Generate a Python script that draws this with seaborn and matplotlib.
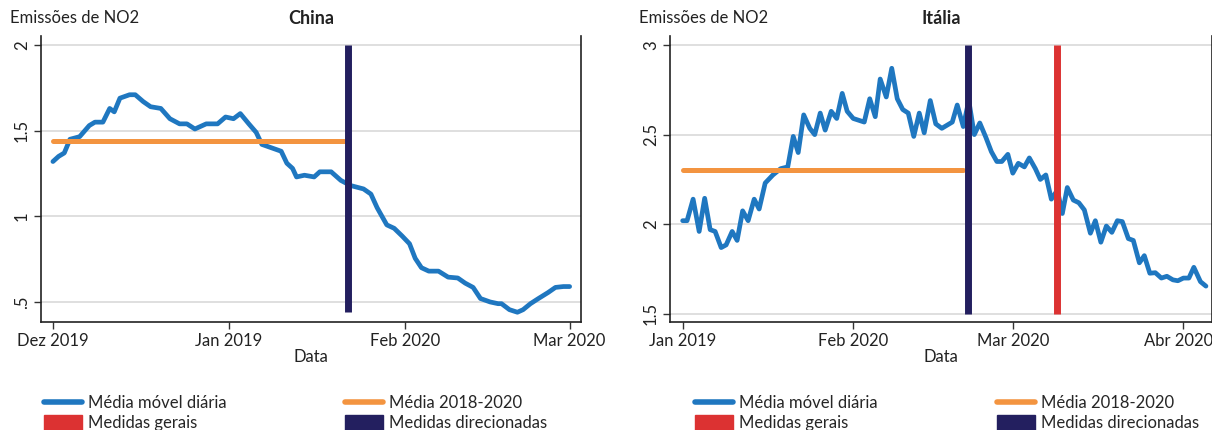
import numpy as np
import pandas as pd
import matplotlib
matplotlib.use('Agg')
import matplotlib.pyplot as plt
import matplotlib.transforms as mtransforms
import seaborn as sns
from matplotlib.lines import Line2D
from matplotlib.patches import Patch

# Data (x = days since start of first month)
china_days = [0, 1, 2, 3, 4.7, 6.4, 7.4, 8.8, 10, 10.8, 11.8, 13.5, 14.5, 15.9, 17.2, 19, 20.6,
              22.3, 23.6, 25, 27, 29, 30.4, 31.8, 33, 34.5, 35.8, 36.8, 38.5, 40.2, 41.2, 42.2,
              42.9, 44.3, 46, 47, 49, 50.7, 52.4, 54.7, 56, 57.1, 58.8, 60.1, 61.5, 62.8, 63.8,
              64.9, 66.2, 67.9, 69.6, 71.3, 72.6, 74, 75.3, 77, 78.4, 79, 80.4, 81.8, 82.8,
              84.1, 85.5, 87.2, 88.5, 89.9, 91]
china_values = [1.32, 1.35, 1.37, 1.45, 1.465, 1.53, 1.55, 1.55, 1.63, 1.61, 1.69, 1.71, 1.71,
                1.67, 1.64, 1.63, 1.57, 1.54, 1.54, 1.51, 1.54, 1.54, 1.58, 1.57, 1.60, 1.54,
                1.49, 1.42, 1.40, 1.38, 1.31, 1.28, 1.23, 1.24, 1.23, 1.26, 1.26, 1.21, 1.18,
                1.16, 1.13, 1.05, 0.95, 0.93, 0.885, 0.84, 0.755, 0.70, 0.68, 0.68, 0.645, 0.64,
                0.61, 0.585, 0.52, 0.50, 0.49, 0.49, 0.455, 0.44, 0.455, 0.49, 0.52, 0.555,
                0.585, 0.59, 0.59]
china_mean = 1.44
china_mean_end = 51.5
china_direcionadas = 52
china_ticks = [0, 31, 62, 91]
china_ticklabels = ['Dez 2019', 'Jan 2019', 'Feb 2020', 'Mar 2020']
china_yticks = [0.5, 1, 1.5, 2]
china_yticklabels = ['.5', '1', '1.5', '2']

italy_days = [0, 0.8, 1.9, 3, 4, 5, 5.9, 7, 7.9, 9, 9.9, 10.9, 11.9, 13, 13.9, 15, 16.4, 17.8,
              19.1, 20.1, 21, 22, 23.1, 24, 25, 25.9, 27, 28, 29, 29.9, 31, 33, 34, 35, 35.9,
              37, 38, 39, 40, 41, 42, 43, 43.9, 45, 46, 47.1, 49, 49.9, 51, 52, 53, 54, 55.1,
              56.1, 57.1, 58, 59.1, 60, 61, 62.1, 63, 64.1, 65, 66, 67, 68.1, 69, 69.9, 71, 72,
              73, 74.1, 75, 76, 77, 78, 79, 79.9, 81, 81.9, 83, 83.9, 84.9, 85.9, 87, 88, 89.1,
              90, 91, 92, 92.9, 94.1, 95.1]
italy_values = [2.02, 2.02, 2.14, 1.96, 2.145, 1.97, 1.96, 1.87, 1.885, 1.96, 1.91, 2.075, 2.02,
                2.14, 2.085, 2.23, 2.275, 2.31, 2.32, 2.49, 2.40, 2.61, 2.535, 2.50, 2.62, 2.525,
                2.63, 2.59, 2.73, 2.63, 2.59, 2.57, 2.70, 2.60, 2.81, 2.71, 2.87, 2.70, 2.64,
                2.62, 2.49, 2.62, 2.51, 2.69, 2.56, 2.535, 2.57, 2.665, 2.545, 2.69, 2.50, 2.565,
                2.485, 2.405, 2.35, 2.35, 2.39, 2.285, 2.34, 2.32, 2.37, 2.31, 2.25, 2.275, 2.14,
                2.19, 2.06, 2.205, 2.135, 2.12, 2.08, 1.95, 2.02, 1.90, 1.99, 1.955, 2.02, 2.015,
                1.92, 1.91, 1.785, 1.825, 1.727, 1.73, 1.70, 1.71, 1.69, 1.685, 1.70, 1.70, 1.76,
                1.68, 1.655]
italy_mean = 2.30
italy_mean_end = 51
italy_direcionadas = 51.9
italy_gerais = 68.1
italy_ticks = [0, 31, 60, 91]
italy_ticklabels = ['Jan 2019', 'Feb 2020', 'Mar 2020', 'Abr 2020']
italy_yticks = [1.5, 2, 2.5, 3]
italy_yticklabels = ['1.5', '2', '2.5', '3']

BLUE = '#1f77c0'
ORANGE = '#f39440'
NAVY = '#231f5f'
RED = '#dc3232'
TXT = '#222222'
FS = 12

sns.set_theme(style='white')
plt.rcParams['font.family'] = ['Lato', 'DejaVu Sans']

fig = plt.figure(figsize=(12.12, 4.3), dpi=100)
ax1 = fig.add_axes([41 / 1212, 108 / 430, 540 / 1212, 286 / 430])
ax2 = fig.add_axes([670 / 1212, 108 / 430, 542 / 1212, 286 / 430])


def draw_panel(ax, days, values, mean, mean_end, vlines, ticks, ticklabels,
               yticks, yticklabels, xlim, ylim, title):
    df = pd.DataFrame({'Data': days, 'NO2': values})
    for yt in yticks:
        ax.axhline(yt, color='#dcdcdc', lw=1.3, zorder=0)
    sns.lineplot(data=df, x='Data', y='NO2', ax=ax, color=BLUE, lw=3.4,
                 solid_capstyle='round', solid_joinstyle='round', zorder=2)
    ax.hlines(mean, 0, mean_end, color=ORANGE, lw=3.6, capstyle='round', zorder=3)
    for x, c, ymin in vlines:
        ax.vlines(x, ymin, yticks[-1], color=c, lw=5, zorder=4)
    ax.set_xlim(*xlim)
    ax.set_ylim(*ylim)
    ax.set_xticks(ticks)
    ax.set_xticklabels(ticklabels, fontsize=FS, color=TXT)
    ax.set_yticks(yticks)
    ax.set_yticklabels(yticklabels, fontsize=FS, color=TXT, rotation=90, va='center')
    ax.tick_params(axis='both', which='both', direction='out', length=5, width=1,
                   color='#333333', left=True, bottom=True, pad=3)
    ax.set_xlabel('Data', fontsize=FS, color=TXT, labelpad=0)
    ax.set_ylabel('')
    for side in ['left', 'bottom', 'right']:
        ax.spines[side].set_visible(True)
        ax.spines[side].set_color(TXT)
        ax.spines[side].set_linewidth(1.2)
    ax.spines['top'].set_visible(False)
    ax.set_title(title, fontsize=13, fontweight='bold', color=TXT, pad=9)
    ax.text(-31 / 540, 1.0 + 10 / 286, 'Emissões de NO2', transform=ax.transAxes,
            fontsize=FS, color=TXT, ha='left', va='bottom')


draw_panel(ax1, china_days, china_values, china_mean, china_mean_end,
           [(china_direcionadas, NAVY, min(china_values))],
           china_ticks, china_ticklabels, china_yticks, china_yticklabels,
           (-2.1, 93.0), (0.383, 2.053), 'China')
draw_panel(ax2, italy_days, italy_values, italy_mean, italy_mean_end,
           [(italy_direcionadas, NAVY, italy_yticks[0]), (italy_gerais, RED, italy_yticks[0])],
           italy_ticks, italy_ticklabels, italy_yticks, italy_yticklabels,
           (-2.3, 96.2), (1.455, 3.05), 'Itália')

# keep the last Italy tick label inside the figure
last = ax2.get_xticklabels()[-1]
last.set_transform(last.get_transform() + mtransforms.ScaledTranslation(-5 / 100, 0, fig.dpi_scale_trans))


def ax_left(ax):
    return ax.get_position().x0 * 1212


def add_legends(ax, x1, x2, width):
    kw = dict(loc='upper left', frameon=False, fontsize=FS, borderpad=0,
              handlelength=2.3, handleheight=1.0, handletextpad=0.35, labelspacing=0.25,
              borderaxespad=0)
    h1 = [Line2D([], [], color=BLUE, lw=4, solid_capstyle='round'),
          Patch(color=RED)]
    h2 = [Line2D([], [], color=ORANGE, lw=4, solid_capstyle='round'),
          Patch(color=NAVY)]
    leg1 = ax.legend(h1, ['Média móvel diária', 'Medidas gerais'],
                     bbox_to_anchor=((x1 - ax_left(ax)) / width, -0.255), **kw)
    ax.add_artist(leg1)
    ax.legend(h2, ['Média 2018-2020', 'Medidas direcionadas'],
              bbox_to_anchor=((x2 - ax_left(ax)) / width, -0.255), **kw)


add_legends(ax1, 44, 345, 540)
add_legends(ax2, 695, 997, 542)

fig.savefig('out.png', dpi=100)
